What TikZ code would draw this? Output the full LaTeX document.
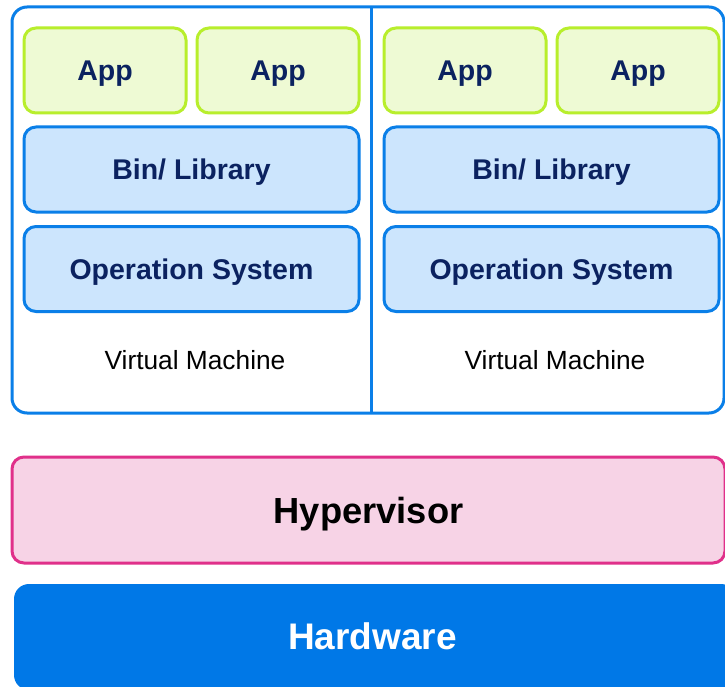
\documentclass[tikz,border=0pt]{standalone}
\usepackage{fontspec}
\setmainfont{Liberation Sans}
\definecolor{navy}{HTML}{0B2260}
\definecolor{appfill}{HTML}{EEFAD4}
\definecolor{appline}{HTML}{B8EE2C}
\definecolor{binfill}{HTML}{CCE5FD}
\definecolor{blueline}{HTML}{0A7FE8}
\definecolor{hypfill}{HTML}{F7D3E6}
\definecolor{hypline}{HTML}{E0308A}
\definecolor{hwfill}{HTML}{0078E7}
\tikzset{
  layer/.style={draw, line width=3pt, rounded corners=12pt, inner sep=0pt, outer sep=0pt, align=center, text depth=0pt},
  appbox/.style={layer, draw=appline, fill=appfill, minimum width=162pt, minimum height=85pt,
    text=navy, font=\fontsize{28.5}{32}\selectfont\bfseries},
  osbox/.style={layer, draw=blueline, fill=binfill, minimum width=335pt, minimum height=85pt,
    text=navy, font=\fontsize{28.5}{32}\selectfont\bfseries},
  vmlabel/.style={font=\fontsize{26.3}{30}\selectfont, text=black, inner sep=0pt, text depth=0pt},
}
\begin{document}
\begin{tikzpicture}[x=1pt,y=-1pt]
\useasboundingbox (0,0) rectangle (725,687);
\fill[white] (0,0) rectangle (725,687);
% outer VM container
\node[draw=blueline, line width=3pt, rounded corners=15pt, minimum width=712pt, minimum height=406pt, inner sep=0pt] (vm) at (368,210) {};
\coordinate (divtop) at (371,7);
\coordinate (divbot) at (371,413);
\draw[blueline, line width=3pt] (divtop) -- (divbot);
% left VM
\node[appbox] (appA) at (105,70.5) {App};
\node[appbox] (appB) at (278,70.5) {App};
\node[osbox] (binL) at (191.5,169.5) {Bin/ Library};
\node[osbox] (osL) at (191.5,269) {Operation System};
\node[vmlabel] (vmL) at (195,359.5) {Virtual Machine};
% right VM
\node[appbox] (appC) at (465,70.5) {App};
\node[appbox] (appD) at (638,70.5) {App};
\node[osbox] (binR) at (551.5,169.5) {Bin/ Library};
\node[osbox] (osR) at (551.5,269) {Operation System};
\node[vmlabel] (vmR) at (555,359.5) {Virtual Machine};
% hypervisor
\node[layer, draw=hypline, fill=hypfill, minimum width=713pt, minimum height=106pt,
  font=\fontsize{36.3}{40}\selectfont\bfseries, text=black] (hyp) at (368.5,510) {Hypervisor};
% hardware
\node[rounded corners=15pt, fill=hwfill, minimum width=722pt, minimum height=106pt, inner sep=0pt] (hw) at (375,637) {};
\node[font=\fontsize{37}{40}\selectfont\bfseries, text=white, inner sep=0pt, text depth=0pt] (hwt) at (372.5,636) {Hardware};
\end{tikzpicture}
\end{document}
